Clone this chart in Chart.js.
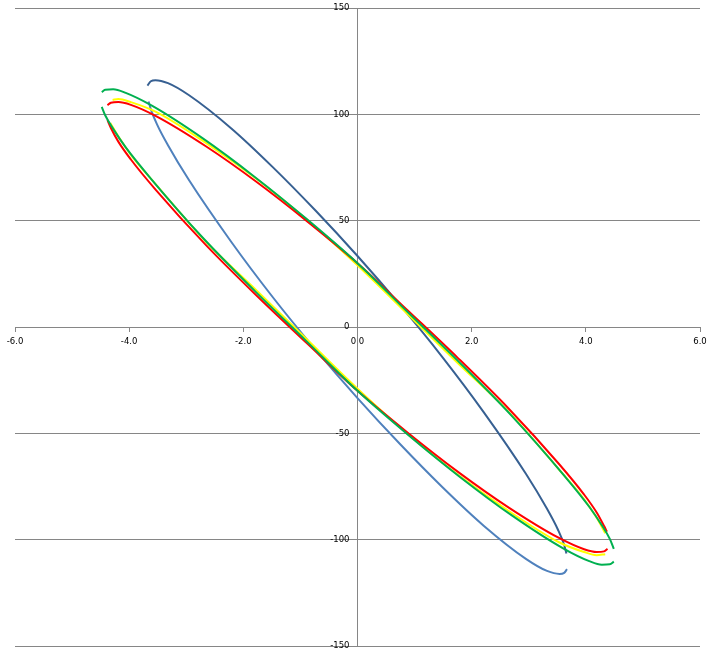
<!DOCTYPE html>
<html>
<head>
<meta charset="utf-8">
<script src="https://cdn.jsdelivr.net/npm/chart.js@4.4.1/dist/chart.umd.min.js"></script>
<style>
  html, body { margin: 0; padding: 0; background: #fff; }
</style>
</head>
<body>
<canvas id="loops" width="717" height="656"></canvas>
<script>
// tick values
const xTickValues = [-6, -4, -2, 0, 2, 4, 6];
const yTickValues = [-150, -100, -50, 0, 50, 100, 150];

// blue loop (dark blue = upper branch, light blue = lower branch)
const darkBlueX = [-3.68, -3.62, -3.54, -3.32, -2.95, -2.21, -1.48, -0.74, 0, 0.74, 1.48, 2.21, 2.95, 3.32, 3.51, 3.62, 3.66];
const darkBlueY = [113.5, 115.6, 116.1, 114.7, 109.0, 93.4, 75.1, 54.9, 33.4, 10.5, -13.9, -40.0, -69.0, -85.5, -95.2, -102.4, -106.5];
const lightBlueX = [-3.66, -3.62, -3.51, -3.32, -2.95, -2.21, -1.48, -0.74, 0, 0.74, 1.48, 2.21, 2.95, 3.32, 3.54, 3.62, 3.67];
const lightBlueY = [106.1, 102.4, 95.2, 85.5, 69.0, 40.0, 13.9, -10.5, -33.4, -54.9, -75.1, -93.4, -109.0, -114.7, -116.1, -115.6, -113.9];

// red loop
const redUpperX = [-4.38, -4.32, -4.19, -3.97, -3.53, -2.65, -1.76, -0.88, 0, 0.88, 1.76, 2.65, 3.53, 3.97, 4.19, 4.32, 4.37];
const redUpperY = [104.3, 105.5, 105.8, 104.5, 99.2, 84.9, 68.1, 49.7, 30, 7.8, -14.6, -38.4, -64.4, -78.8, -87.2, -93.6, -96.3];
const redLowerX = [-4.38, -4.32, -4.19, -3.97, -3.53, -2.65, -1.76, -0.88, 0, 0.88, 1.76, 2.65, 3.53, 3.97, 4.19, 4.32, 4.38];
const redLowerY = [97.3, 93.6, 87.2, 78.8, 64.4, 38.4, 14.6, -7.8, -30, -49.7, -68.1, -84.9, -99.2, -104.5, -105.8, -105.5, -104.3];

// yellow loop
const yellowUpperX = [-4.29, -4.19, -3.97, -3.53, -2.65, -1.76, -0.88, 0, 0.88, 1.76, 2.65, 3.53, 3.97, 4.19, 4.34];
const yellowUpperY = [106.8, 107.3, 105.8, 101.2, 86.5, 69.5, 50.3, 29, 6.0, -17.0, -40.0, -67.0, -81.0, -89.7, -97.0];
const yellowLowerX = [-4.33, -4.19, -3.97, -3.53, -2.65, -1.76, -0.88, 0, 0.88, 1.76, 2.65, 3.53, 3.97, 4.19, 4.34];
const yellowLowerY = [96.0, 89.7, 81.0, 67.0, 40.0, 17.0, -6.0, -29, -50.3, -69.5, -86.5, -101.2, -105.8, -107.3, -106.8];

// green loop
const greenUpperX = [-4.48, -4.42, -4.28, -4.06, -3.61, -2.71, -1.80, -0.90, 0, 0.90, 1.80, 2.71, 3.61, 4.06, 4.28, 4.42, 4.49];
const greenUpperY = [110.5, 111.6, 111.8, 110.1, 104.2, 88.7, 70.6, 51.0, 30, 6.5, -17.0, -42.0, -69.5, -84.5, -93.2, -99.6, -104.3];
const greenLowerX = [-4.48, -4.42, -4.28, -4.06, -3.61, -2.71, -1.80, -0.90, 0, 0.90, 1.80, 2.71, 3.61, 4.06, 4.28, 4.42, 4.49];
const greenLowerY = [103.5, 99.6, 93.2, 84.5, 69.5, 42.0, 17.0, -6.5, -30, -51.0, -70.6, -88.7, -104.2, -110.1, -111.8, -111.6, -110.3];

const gridColor = '#868686'
const tickFont = { family: 'DejaVu Sans', size: 8.5 }

const branch = (xs, ys, color) => ({
    data: xs.map((x, i) => ({ x: x, y: ys[i] })),
    showLine: true,
    borderColor: color,
    backgroundColor: color,
    borderWidth: 2,
    pointRadius: 0,
    cubicInterpolationMode: 'monotone'
})

// first dataset is drawn on top
const datasets = [
    branch(greenUpperX, greenUpperY, '#00B050'),
    branch(greenLowerX, greenLowerY, '#00B050'),
    branch(redUpperX, redUpperY, '#FF0000'),
    branch(redLowerX, redLowerY, '#FF0000'),
    branch(yellowUpperX, yellowUpperY, '#FFFF00'),
    branch(yellowLowerX, yellowLowerY, '#FFFF00'),
    branch(darkBlueX, darkBlueY, '#376092'),
    branch(lightBlueX, lightBlueY, '#4F81BD')
]

new Chart(document.getElementById('loops'), {
    type: 'scatter',
    data: { datasets: datasets },
    options: {
        responsive: false,
        animation: false,
        devicePixelRatio: 1,
        layout: { padding: { left: 15, right: 17, top: 8, bottom: 10 } },
        plugins: { legend: { display: false }, tooltip: { enabled: false } },
        scales: {
            x: {
                type: 'linear',
                position: 'center',
                min: -6,
                max: 6,
                afterBuildTicks: scale => { scale.ticks = xTickValues.map(v => ({ value: v })) },
                grid: { drawOnChartArea: false, drawTicks: true, tickLength: 4, color: gridColor },
                border: { color: gridColor, width: 1 },
                ticks: { font: tickFont, color: '#000', padding: 6, maxRotation: 0, autoSkip: false,
                         callback: v => Number(v).toFixed(1) }
            },
            y: {
                type: 'linear',
                position: 'center',
                min: -150,
                max: 150,
                afterBuildTicks: scale => { scale.ticks = yTickValues.map(v => ({ value: v })) },
                // ticks sit under the grid lines, they only push the labels off the axis
                grid: { color: gridColor, drawTicks: true, tickLength: 5 },
                border: { color: gridColor, width: 1 },
                ticks: { font: tickFont, color: '#000', padding: 3, autoSkip: false }
            }
        }
    }
})
</script>
</body>
</html>
